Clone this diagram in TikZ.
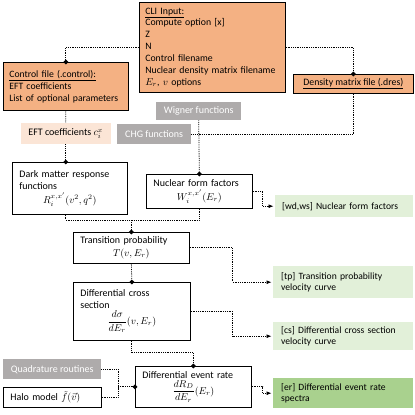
\documentclass[tikz,border=0pt]{standalone}
\usepackage{fontspec}
\setmainfont{Carlito}
\usepackage{amssymb,amsmath}
\usepackage{tikz}
\usetikzlibrary{positioning, arrows.meta}
\definecolor{cliorange}{HTML}{F4B183}
\definecolor{eftpink}{HTML}{FBE5D6}
\definecolor{libgray}{HTML}{AEABAB}
\definecolor{outgreen}{HTML}{E2F0D9}
\definecolor{ergreen}{HTML}{A9D18E}
\newcommand{\mline}[1]{\makebox[\hsize]{#1}}
\tikzset{%
	every node/.style = {font = \fontsize{10}{11.9}\selectfont},
	blk/.style = {anchor = north west, draw, line width = 0.7pt, inner xsep = 7pt, inner ysep = 1pt, align = left},
	inp/.style = {blk, fill = cliorange, inner xsep = 6pt, font = \fontsize{9.8}{11.9}\selectfont},
	lib/.style = {anchor = north west, fill = libgray, text = white, inner sep = 1pt},
	outp/.style = {anchor = north west, fill = outgreen, inner xsep = 8pt, inner ysep = 1pt, align = left, text width = 124pt, font = \fontsize{9.6}{11.7}\selectfont},
	link/.style = {densely dotted, line width = 0.8pt},
	dot/.style = {link, -{Circle[length = 4.5pt]}, shorten > = -2.25pt},
	arr/.style = {link, -{Latex[length = 5pt, width = 4pt]}, shorten > = 1.5pt}
}
\begin{document}
\begin{tikzpicture}[x = 1pt, y = -1pt]
		\useasboundingbox (0,0) rectangle (415,415);
		\node [inp, text width = 134pt, minimum height = 90pt] (cli) at (139,2) {\underline{CLI Input:}\\Compute option [x]\\Z\\N\\Control filename\\Nuclear density matrix filename\\$E_r$, $v$ options};
		\node [inp, font = \fontsize{9.7}{12}\selectfont, text width = 113pt, minimum height = 48pt] (ctrl) at (3,62) {\underline{Control file (.control):}\\EFT coefficients\\List of optional parameters};
		\node [inp, inner sep = 1pt, minimum width = 120pt, minimum height = 19pt] (dres) at (293,74) {\underline{Density matrix file (.dres)}};
		\node [anchor = north west, fill = eftpink, inner sep = 1pt, minimum width = 90pt, minimum height = 21pt] (eft) at (20.5,123) {EFT coefficients $c_i^x$};
		\node [lib, minimum width = 85pt, minimum height = 18pt] (wig) at (156,102) {Wigner functions};
		\node [lib, minimum width = 74pt, minimum height = 20pt] (chg) at (117,124) {CHG functions};
		\node [blk, text width = 101pt, minimum height = 52pt] (dm) at (12,162) {Dark matter response\\functions\\[2pt]\mline{$R_i^{x,x'}(v^2,q^2)$}};
		\node [blk, text width = 92pt, minimum height = 34pt] (nff) at (146,174) {Nuclear form factors\\[2pt]\mline{$W_i^{x,x'}(E_r)$}};
		\node [blk, text width = 102pt, minimum height = 31pt] (trans) at (73,232) {Transition probability\\[0.5pt]\mline{$T(v,E_r)$}};
		\node [blk, text width = 103pt, minimum height = 58pt] (cs) at (73,282) {Differential cross\\section\\[1pt]\mline{$\dfrac{d\sigma}{dE_r}(v,E_r)$}};
		\node [blk, text width = 102pt, minimum height = 41pt] (der) at (135,366) {Differential event rate\\[1pt]\mline{$\dfrac{dR_D}{dE_r}(E_r)$}};
		\node [lib, minimum width = 98pt, minimum height = 20pt] (quad) at (3,359) {Quadrature routines};
		\node [blk, text width = 84pt, minimum height = 20pt] (halo) at (3,387) {Halo model $\tilde{f}(\vec{v})$};
		\node [outp, text width = 124pt, inner xsep = 7pt, minimum height = 22pt] (owd) at (275,195) {[wd,ws] Nuclear form factors};
		\node [outp, minimum height = 32pt] (otp) at (273,266) {[tp] Transition probability\\velocity curve};
		\node [outp, minimum height = 28pt] (ocs) at (273,322) {[cs] Differential cross section\\velocity curve};
		\node [outp, fill = ergreen, minimum height = 30pt] (oer) at (273,378) {[er] Differential event rate\\spectra};
		\coordinate (tj) at ([yshift = 12pt]trans.north);
		\coordinate (hj) at ([xshift = -17pt]der.west);
		\draw [dot] (cli.west) -| (ctrl.north);
		\draw [dot] (cli.east) -| (dres.north);
		\path [link] (ctrl.south) edge (eft.north);
		\draw [link] (dres.south) |- (chg.east);
		\draw [dot] (wig.south) -- (nff.north);
		\draw [dot] (eft.south) -- (eft.south |- dm.north);
		\draw [link] (eft.south |- dm.south) |- (tj);
		\draw [link] (nff.south) |- (tj);
		\draw [dot] (tj) -- (trans.north);
		\draw [arr] (nff.east) -- ++(10,0) |- (owd.west);
		\draw [arr] (trans.east) -- ++(43,0) |- (otp.west);
		\draw [dot] (trans.south) -- (cs.north);
		\draw [arr] (cs.east) -- ++(42,0) |- (ocs.west);
		\draw [dot] (cs.south) -- ++(0,12) -| (der.north);
		\draw [arr] (der.east) -- ++(11,0) |- (oer.west);
		\draw [link] (quad.east) -| (hj);
		\draw [link] (halo.east) -| (hj);
		\draw [dot] (hj) -- (der.west);
		\end{tikzpicture}
\end{document}
